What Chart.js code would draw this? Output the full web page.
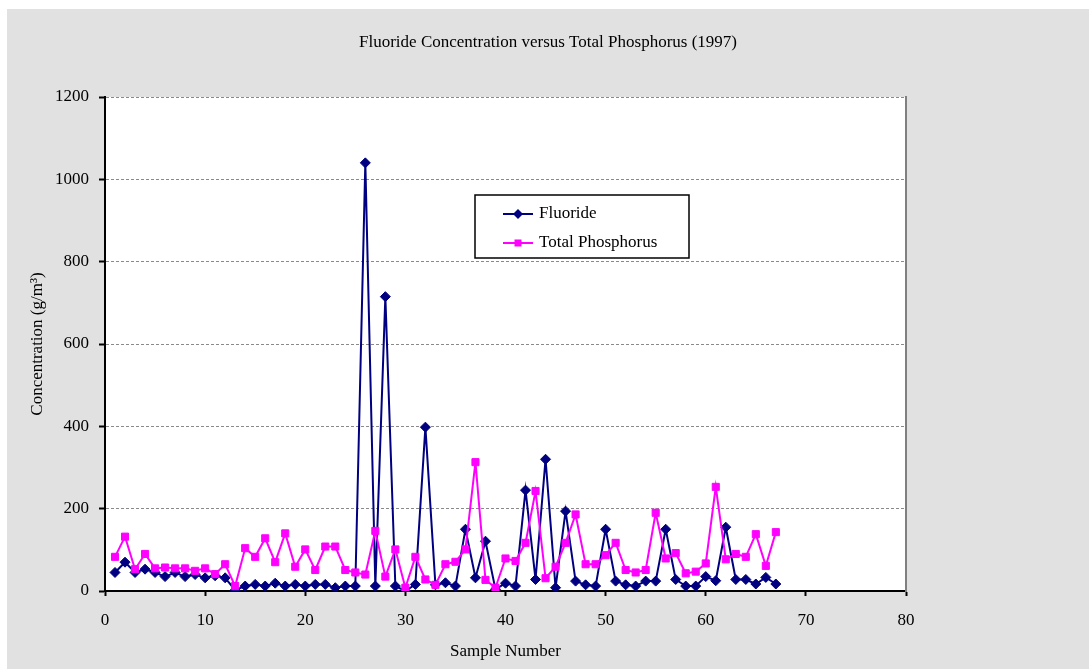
<!DOCTYPE html>
<html>
<head>
<meta charset="utf-8">
<title>Fluoride Concentration versus Total Phosphorus (1997)</title>
<script src="https://cdn.jsdelivr.net/npm/chart.js@4.4.1/dist/chart.umd.min.js"></script>
<style>
    body { margin: 0; background: #fff; }
    #fluoride-chart { position: absolute; left: 7px; top: 9px; background: #e1e1e1; }
</style>
</head>
<body>
<canvas id="fluoride-chart" width="1082" height="660"></canvas>
<script>
// sample numbers on the x axis
const sampleNumbers = [
    1, 2, 3, 4, 5, 6, 7, 8, 9, 10, 11, 12, 13, 14, 15, 16, 17, 18, 19, 20,
    21, 22, 23, 24, 25, 26, 27, 28, 29, 30, 31, 32, 33, 34, 35, 36, 37, 38, 39, 40,
    41, 42, 43, 44, 45, 46, 47, 48, 49, 50, 51, 52, 53, 54, 55, 56, 57, 58, 59, 60,
    61, 62, 63, 64, 65, 66, 67
];

// g/m3
const fluoride = [
    45, 70, 45, 53, 45, 35, 45, 35, 40, 32, 37, 32, 2, 12, 16, 12, 19, 12, 16, 12,
    16, 16, 8, 12, 12, 1040, 12, 715, 12, 0, 16, 398, 15, 20, 12, 150, 32, 121, 4, 19,
    12, 245, 28, 320, 8, 194, 24, 15, 12, 150, 24, 15, 12, 24, 24, 150, 28, 12, 12, 35,
    25, 155, 28, 28, 17, 33, 17
];

const totalPhosphorus = [
    83, 132, 53, 90, 55, 57, 55, 55, 49, 55, 41, 65, 12, 104, 83, 128, 70, 140, 59, 101,
    51, 108, 108, 51, 45, 40, 146, 35, 101, 8, 83, 28, 15, 65, 71, 101, 313, 27, 8, 79,
    73, 117, 243, 31, 59, 117, 186, 65, 65, 87, 117, 51, 45, 51, 190, 79, 92, 43, 47, 67,
    253, 77, 90, 83, 138, 61, 143
];

const xTicks = [0, 10, 20, 30, 40, 50, 60, 70, 80];
const yTicks = [0, 200, 400, 600, 800, 1000, 1200];

const serif = "'Liberation Serif', 'Times New Roman', serif";

function toPoints(values) {
    return sampleNumbers.map((n, i) => ({ x: n, y: values[i] }));
}

// white plot area on the grey page
const plotBackground = {
    id: "plotBackground",
    beforeDraw(chart) {
        const { ctx, chartArea } = chart;
        ctx.save();
        ctx.fillStyle = "#fff";
        ctx.fillRect(chartArea.left, chartArea.top, chartArea.right - chartArea.left, chartArea.bottom - chartArea.top);
        ctx.restore();
    },
};

// boxed legend sitting inside the plot, like the original
const boxLegend = {
    id: "boxLegend",
    afterDraw(chart) {
        const { ctx, chartArea } = chart;
        const left = chartArea.left + 370;
        const top = chartArea.top + 98;
        const w = 214, h = 63;

        ctx.save();
        ctx.fillStyle = "#fff";
        ctx.fillRect(left, top, w, h);
        ctx.lineWidth = 1.5;
        ctx.strokeStyle = "#000";
        ctx.strokeRect(left, top, w, h);

        ctx.font = "17px " + serif;
        ctx.textBaseline = "middle";
        ctx.textAlign = "left";

        chart.data.datasets.forEach((ds, i) => {
            const y = top + 19 + i * 29;
            ctx.strokeStyle = ds.borderColor;
            ctx.lineWidth = 2;
            ctx.beginPath();
            ctx.moveTo(left + 28, y);
            ctx.lineTo(left + 58, y);
            ctx.stroke();

            ctx.fillStyle = ds.borderColor;
            ctx.beginPath();
            if (ds.pointStyle === "rectRot") {
                ctx.moveTo(left + 43 - 5, y);
                ctx.lineTo(left + 43, y - 5);
                ctx.lineTo(left + 43 + 5, y);
                ctx.lineTo(left + 43, y + 5);
                ctx.closePath();
            } else {
                ctx.rect(left + 43 - 3.5, y - 3.5, 7, 7);
            }
            ctx.fill();

            ctx.fillStyle = "#000";
            ctx.fillText(ds.label, left + 64, y);
        });
        ctx.restore();
    },
};

function createChart() {
    const canvas = document.querySelector("#fluoride-chart");

    let options = {
        type: "line",
        data: {
            datasets: [
                {
                    label: "Fluoride",
                    data: toPoints(fluoride),
                    borderColor: "#000080",
                    backgroundColor: "#000080",
                    borderWidth: 2,
                    pointStyle: "rectRot",
                    pointRadius: 5,
                    pointBorderWidth: 1,
                    tension: 0,
                    order: 1,
                },
                {
                    label: "Total Phosphorus",
                    data: toPoints(totalPhosphorus),
                    borderColor: "#ff00ff",
                    backgroundColor: "#ff00ff",
                    borderWidth: 2,
                    pointStyle: "rect",
                    pointRadius: 5,
                    pointBorderWidth: 1,
                    tension: 0,
                    order: 0,
                },
            ],
        },
        options: {
            responsive: false,
            animation: false,
            devicePixelRatio: 1,
            layout: { padding: 0 },
            scales: {
                x: {
                    type: "linear",
                    position: "bottom",
                    min: 0,
                    max: 80,
                    afterBuildTicks: (scale) => {
                        scale.ticks = xTicks.map((v) => ({ value: v }));
                    },
                    afterFit: (scale) => {
                        scale.height = 78;
                    },
                    grid: {
                        drawOnChartArea: false,
                        drawTicks: true,
                        tickLength: 5,
                        tickWidth: 2,
                        tickColor: "#000",
                    },
                    border: { color: "#000", width: 2 },
                    ticks: {
                        color: "#000",
                        padding: 14,
                        maxRotation: 0,
                        callback: (value) => String(value),
                        font: { family: serif, size: 17 },
                    },
                    title: {
                        display: true,
                        text: "Sample Number",
                        color: "#000",
                        padding: { top: 0, bottom: 7 },
                        font: { family: serif, size: 17 },
                    },
                },
                y: {
                    position: "left",
                    min: 0,
                    max: 1200,
                    afterBuildTicks: (scale) => {
                        scale.ticks = yTicks.map((v) => ({ value: v }));
                    },
                    afterFit: (scale) => {
                        scale.width = 98;
                    },
                    grid: {
                        color: "#8a8a8a",
                        lineWidth: 1,
                        drawTicks: true,
                        tickLength: 6,
                        tickWidth: 2,
                        tickColor: "#000",
                        tickBorderDash: [],
                    },
                    border: { color: "#000", width: 2, dash: [3, 2] },
                    ticks: {
                        color: "#000",
                        padding: 10,
                        callback: (value) => String(value),
                        font: { family: serif, size: 17 },
                    },
                    title: {
                        display: true,
                        text: "Concentration (g/m³)",
                        color: "#000",
                        padding: { top: 20, bottom: 0 },
                        font: { family: serif, size: 17 },
                    },
                },
                // only here for the grey right edge of the plot and the blank space after it
                yRight: {
                    position: "right",
                    min: 0,
                    max: 1200,
                    afterFit: (scale) => {
                        scale.width = 183;
                    },
                    grid: { drawOnChartArea: false, drawTicks: false },
                    border: { color: "#808080", width: 2 },
                    ticks: { display: false },
                },
            },
            plugins: {
                title: {
                    display: true,
                    text: "Fluoride Concentration versus Total Phosphorus (1997)",
                    color: "#000",
                    padding: { top: 23, bottom: 44.6 },
                    font: { family: serif, size: 17, weight: "normal" },
                },
                legend: { display: false },
                tooltip: { enabled: false },
            },
        },
        plugins: [plotBackground, boxLegend],
    };

    const chart = new Chart(canvas.getContext("2d"), options);
}

createChart();
</script>
</body>
</html>
